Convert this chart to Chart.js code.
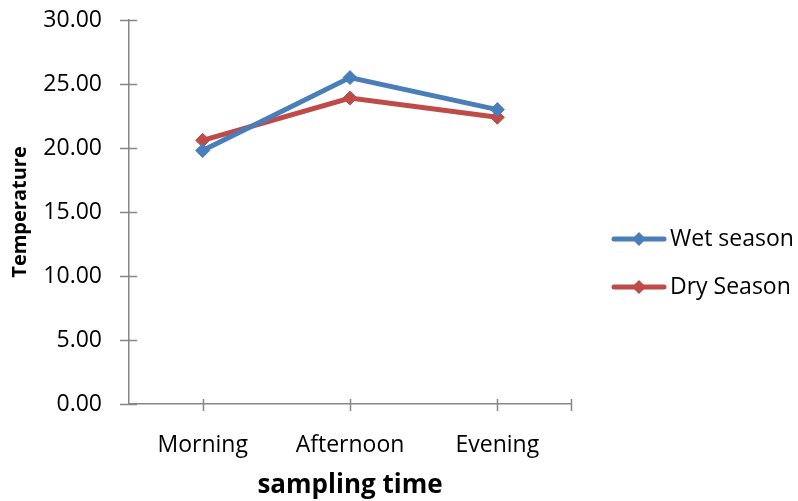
<!DOCTYPE html>
<html>
<head>
<meta charset="utf-8">
<script src="https://cdn.jsdelivr.net/npm/chart.js@4/dist/chart.umd.min.js"></script>
<style>
  html, body { margin: 0; padding: 0; background: #fff; }
  #wrap { width: 798px; height: 501px; position: relative; }
</style>
</head>
<body>
<div id="wrap"><canvas id="chart"></canvas></div>
<script>
// Sampling times and mean temperatures per season
const categories = ['Morning', 'Afternoon', 'Evening'];
const wetSeason = [19.8, 25.5, 23.0];
const drySeason = [20.6, 23.9, 22.4];
const seriesNames = ['Wet season', 'Dry Season'];
const yTicks = [0, 5, 10, 15, 20, 25, 30];

const BLUE = '#4A7EBB';
const RED = '#BE4B48';
const AXIS = '#868686';
const FONT = '"Open Sans", "Noto Sans", sans-serif';

// Excel-style axis tick marks that cross the axis line
const crossTicks = {
  id: 'crossTicks',
  afterDraw(chart) {
    const { ctx, scales: { x, y } } = chart;
    ctx.save();
    ctx.strokeStyle = AXIS;
    ctx.lineWidth = 1.5;
    ctx.beginPath();
    y.ticks.forEach((t, i) => {
      const py = Math.round(y.getPixelForTick(i)) + 0.5;
      ctx.moveTo(x.left - 9, py);
      ctx.lineTo(x.left + 8, py);
    });
    const xs = x.ticks.map((t, i) => x.getPixelForTick(i));
    xs.push(x.right);
    xs.forEach(px => {
      const p = Math.round(px) + 0.5;
      ctx.moveTo(p, y.bottom - 5);
      ctx.lineTo(p, y.bottom + 7);
    });
    ctx.stroke();
    ctx.restore();
  }
};

// Legend on the right: line sample with a diamond marker, then the series name
const sideLegend = {
  id: 'sideLegend',
  afterDraw(chart) {
    const { ctx } = chart;
    const x0 = 614, x1 = 664, tx = 670;
    const rows = [239, 287];
    ctx.save();
    chart.data.datasets.forEach((ds, i) => {
      const yy = rows[i];
      ctx.strokeStyle = ds.borderColor;
      ctx.lineWidth = 5;
      ctx.lineCap = 'round';
      ctx.beginPath();
      ctx.moveTo(x0, yy);
      ctx.lineTo(x1, yy);
      ctx.stroke();
      const cx = (x0 + x1) / 2, r = 7;
      ctx.fillStyle = ds.borderColor;
      ctx.beginPath();
      ctx.moveTo(cx - r, yy);
      ctx.lineTo(cx, yy - r);
      ctx.lineTo(cx + r, yy);
      ctx.lineTo(cx, yy + r);
      ctx.closePath();
      ctx.fill();
      ctx.fillStyle = '#000';
      ctx.font = '23px ' + FONT;
      ctx.textBaseline = 'middle';
      ctx.textAlign = 'left';
      ctx.fillText(ds.label, tx, yy);
    });
    ctx.restore();
  }
};

new Chart(document.getElementById('chart'), {
  type: 'line',
  data: {
    labels: categories,
    datasets: [
      {
        label: seriesNames[0],
        data: wetSeason,
        borderColor: BLUE,
        backgroundColor: BLUE,
        borderWidth: 5,
        pointStyle: 'rectRot',
        pointRadius: 7,
        pointBorderWidth: 1,
        tension: 0,
        fill: false
      },
      {
        label: seriesNames[1],
        data: drySeason,
        borderColor: RED,
        backgroundColor: RED,
        borderWidth: 5,
        pointStyle: 'rectRot',
        pointRadius: 7,
        pointBorderWidth: 1,
        tension: 0,
        fill: false
      }
    ]
  },
  options: {
    responsive: true,
    maintainAspectRatio: false,
    animation: false,
    devicePixelRatio: 1,
    layout: { padding: { left: 0, right: 227, top: 20, bottom: 0 } },
    plugins: {
      legend: { display: false },
      tooltip: { enabled: false },
      title: { display: false }
    },
    scales: {
      x: {
        type: 'category',
        offset: true,
        grid: { display: true, drawOnChartArea: false, drawTicks: false },
        border: { display: true, color: AXIS, width: 1.5 },
        ticks: {
          color: '#000',
          font: { family: FONT, size: 23 },
          padding: 28,
          maxRotation: 0
        },
        title: {
          display: true,
          text: 'sampling time',
          color: '#000',
          font: { family: FONT, size: 26, weight: 'bold' },
          padding: { top: 0, bottom: 0 }
        },
        afterFit(scale) {
          scale.height = 97;
          scale.paddingLeft = 0;
          scale.paddingRight = 0;
        }
      },
      y: {
        min: 0,
        max: 30,
        afterBuildTicks(scale) { scale.ticks = yTicks.map(v => ({ value: v })); },
        grid: { display: true, drawOnChartArea: false, drawTicks: false },
        border: { display: true, color: AXIS, width: 1.5 },
        ticks: {
          color: '#000',
          font: { family: FONT, size: 23 },
          padding: 27,
          callback: v => Number(v).toFixed(2)
        },
        title: {
          display: true,
          text: 'Temperature',
          color: '#000',
          font: { family: FONT, size: 20, weight: 'bold' },
          padding: { top: 8, bottom: 0 }
        },
        afterFit(scale) {
          scale.width = 129;
          scale.paddingTop = 0;
          scale.paddingBottom = 0;
        }
      }
    }
  },
  plugins: [crossTicks, sideLegend]
});
</script>
</body>
</html>
